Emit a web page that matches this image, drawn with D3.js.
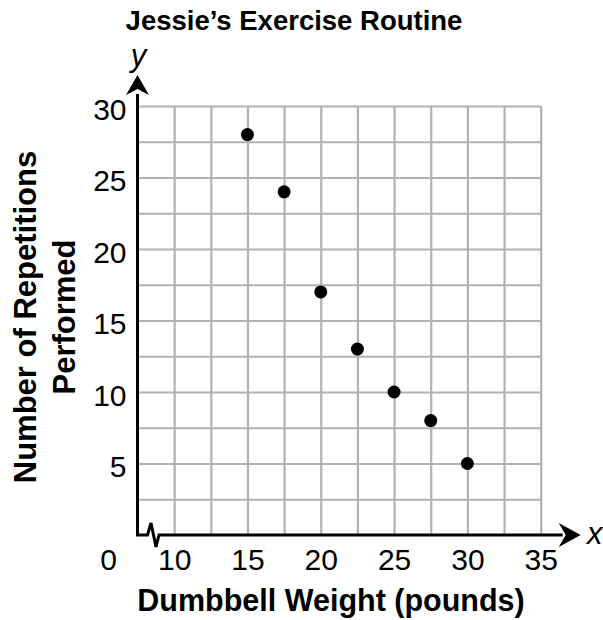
<!DOCTYPE html>
<html>
<head>
<meta charset="utf-8">
<script src="https://cdn.jsdelivr.net/npm/d3@7"></script>
<style>
  html, body { margin: 0; padding: 0; background: #fff; }
  svg { display: block; }
  text { font-family: "Liberation Sans", Arial, Helvetica, sans-serif; fill: #000; }
</style>
</head>
<body>
<svg id="chart" width="603" height="620"></svg>
<script>
// ---- data ----
const title = "Jessie\u2019s Exercise Routine";
const xTitle = "Dumbbell Weight (pounds)";
const yTitleLines = ["Number of Repetitions", "Performed"];
const weights = [15, 17.5, 20, 22.5, 25, 27.5, 30];
const reps = [28, 24, 17, 13, 10, 8, 5];
const xTickLabels = [10, 15, 20, 25, 30, 35];
const yTickLabels = [5, 10, 15, 20, 25, 30];
const xGridValues = [10, 12.5, 15, 17.5, 20, 22.5, 25, 27.5, 30, 32.5, 35];
const yGridValues = [2.5, 5, 7.5, 10, 12.5, 15, 17.5, 20, 22.5, 25, 27.5, 30];

const svg = d3.select("#chart");

const xScale = d3.scaleLinear().domain([7.5, 35]).range([137.5, 540.7]);
const yScale = d3.scaleLinear().domain([0, 30]).range([535, 106]);

const x0 = xScale(7.5), y0 = yScale(0);
const gridColor = "#b1b1b4";

// grid
const gx = svg.append("g")
  .attr("transform", `translate(0,${y0})`)
  .call(d3.axisBottom(xScale).tickValues(xGridValues).tickSize(-(y0 - yScale(30))).tickFormat(""));
gx.select(".domain").remove();
gx.selectAll(".tick line").attr("stroke", gridColor).attr("stroke-width", 2.2);

const gy = svg.append("g")
  .attr("transform", `translate(${x0},0)`)
  .call(d3.axisLeft(yScale).tickValues(yGridValues).tickSize(-(xScale(35) - x0)).tickFormat(""));
gy.select(".domain").remove();
gy.selectAll(".tick line").attr("stroke", gridColor).attr("stroke-width", 2.2);

// tick labels
const xl = svg.append("g")
  .attr("transform", `translate(0,${y0})`)
  .call(d3.axisBottom(xScale).tickValues(xTickLabels).tickSize(0).tickPadding(0).tickFormat(d3.format("d")));
xl.select(".domain").remove();
xl.selectAll(".tick text")
  .attr("dy", null).attr("y", 35)
  .style("font-size", "30px").style("font-family", '"Liberation Sans", Arial, sans-serif')
  .attr("fill", "#000");

const yl = svg.append("g")
  .attr("transform", `translate(${x0},0)`)
  .call(d3.axisLeft(yScale).tickValues(yTickLabels).tickSize(0).tickPadding(0).tickFormat(d3.format("d")));
yl.select(".domain").remove();
yl.selectAll(".tick text")
  .attr("dy", null).attr("x", -11).attr("y", 13)
  .style("font-size", "30px").style("font-family", '"Liberation Sans", Arial, sans-serif')
  .attr("fill", "#000");

// "0" at the origin
svg.append("text")
  .attr("x", x0 - 29).attr("y", y0 + 35)
  .attr("text-anchor", "middle")
  .style("font-size", "30px")
  .text("0");

// axes lines with break
const axisPath = d3.path();
axisPath.moveTo(x0, yScale(30) - 12);
axisPath.lineTo(x0, y0);
axisPath.lineTo(x0 + 10, y0);
axisPath.lineTo(x0 + 13.5, y0 - 12);
axisPath.lineTo(x0 + 18.5, y0 + 12);
axisPath.lineTo(x0 + 21.5, y0);
axisPath.lineTo(xScale(35) + 22, y0);
svg.append("path")
  .attr("d", axisPath.toString())
  .attr("fill", "none").attr("stroke", "#000").attr("stroke-width", 3)
  .attr("stroke-linejoin", "miter");

// arrowheads
const yTip = yScale(30) - 31;
const yArrow = d3.path();
yArrow.moveTo(x0, yTip);
yArrow.lineTo(x0 + 11.5, yTip + 20);
yArrow.lineTo(x0, yTip + 14);
yArrow.lineTo(x0 - 11.5, yTip + 20);
yArrow.closePath();
svg.append("path").attr("d", yArrow.toString()).attr("fill", "#000");

const xTip = xScale(35) + 40;
const xArrow = d3.path();
xArrow.moveTo(xTip, y0);
xArrow.lineTo(xTip - 22, y0 - 12);
xArrow.lineTo(xTip - 15, y0);
xArrow.lineTo(xTip - 22, y0 + 12);
xArrow.closePath();
svg.append("path").attr("d", xArrow.toString()).attr("fill", "#000");

// axis variable letters
svg.append("text")
  .attr("x", x0 + 1).attr("y", 66)
  .attr("text-anchor", "middle")
  .style("font-size", "31px").style("font-style", "italic")
  .text("y");
svg.append("text")
  .attr("x", xTip + 14).attr("y", y0 + 9)
  .attr("text-anchor", "middle")
  .style("font-size", "31px").style("font-style", "italic")
  .text("x");

// points
svg.append("g").selectAll("circle")
  .data(weights.map((w, i) => ({ w, r: reps[i] })))
  .join("circle")
  .attr("cx", d => xScale(d.w))
  .attr("cy", d => yScale(d.r))
  .attr("r", 6.5)
  .attr("fill", "#000");

// titles
svg.append("text")
  .attr("x", 294).attr("y", 30)
  .attr("text-anchor", "middle")
  .style("font-size", "27.5px").style("font-weight", "bold")
  .text(title);

svg.append("text")
  .attr("x", 331).attr("y", 611)
  .attr("text-anchor", "middle")
  .style("font-size", "30.5px").style("font-weight", "bold")
  .text(xTitle);

const yt = svg.append("text")
  .attr("transform", "translate(36,317) rotate(-90)")
  .attr("text-anchor", "middle")
  .style("font-size", "31px").style("font-weight", "bold");
yt.selectAll("tspan").data(yTitleLines).join("tspan")
  .attr("x", 0).attr("dy", (d, i) => i === 0 ? 0 : 39)
  .text(d => d);
</script>
</body>
</html>
